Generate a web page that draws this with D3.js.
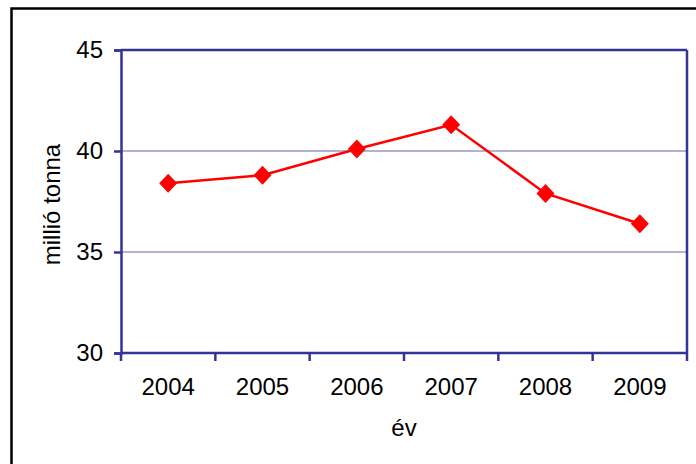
<!DOCTYPE html>
<html>
<head>
<meta charset="utf-8">
<script src="https://cdn.jsdelivr.net/npm/d3@7"></script>
<style>
  html, body { margin: 0; padding: 0; background: #fff; }
  svg { display: block; }
  text { font-family: "Liberation Sans", Arial, sans-serif; fill: #000; }
</style>
</head>
<body>
<svg id="chart" width="696" height="464"></svg>
<script>
const years = ["2004", "2005", "2006", "2007", "2008", "2009"];
const values = [38.4, 38.8, 40.1, 41.3, 37.9, 36.4];
const yTicks = [30, 35, 40, 45];
const yLabel = "millió tonna";
const xLabel = "év";

const svg = d3.select("#chart");
const W = 696, H = 464;
const m = { left: 121, right: 696 - 687, top: 50, bottom: 464 - 353 };
const iw = W - m.left - m.right, ih = H - m.top - m.bottom;
const FS = "24px";

// outer frame
svg.append("rect")
  .attr("x", 11.5).attr("y", 8.5)
  .attr("width", 700).attr("height", 470)
  .attr("fill", "none").attr("stroke", "#000").attr("stroke-width", 2.5);

const x = d3.scaleBand().domain(years).range([0, iw]).padding(0);
const y = d3.scaleLinear().domain([30, 45]).range([ih, 0]);

const g = svg.append("g").attr("transform", `translate(${m.left},${m.top})`);

// gridlines
g.append("g").selectAll("line")
  .data(yTicks.filter(t => t > 30 && t < 45))
  .join("line")
  .attr("x1", 0).attr("x2", iw)
  .attr("y1", d => y(d)).attr("y2", d => y(d))
  .attr("stroke", "#9999cc").attr("stroke-width", 1.5);

// plot frame top & right
g.append("line").attr("x1", 0).attr("x2", iw).attr("y1", 0).attr("y2", 0)
  .attr("stroke", "#333399").attr("stroke-width", 2.5);
g.append("line").attr("x1", iw).attr("x2", iw).attr("y1", 0).attr("y2", ih)
  .attr("stroke", "#333399").attr("stroke-width", 2.5);

// y axis
const yAxis = g.append("g")
  .call(d3.axisLeft(y).tickValues(yTicks).tickSize(7).tickPadding(11).tickFormat(d3.format("d")));
yAxis.select(".domain").attr("stroke", "#333399").attr("stroke-width", 2.5);
yAxis.selectAll(".tick line").attr("stroke", "#333399").attr("stroke-width", 2.5);
yAxis.selectAll(".tick text")
  .style("font-family", "'Liberation Sans', Arial, sans-serif")
  .style("font-size", FS).attr("fill", "#000");

// x axis with ticks between categories
const xAxisG = g.append("g").attr("transform", `translate(0,${ih})`);
xAxisG.append("line").attr("x1", 0).attr("x2", iw).attr("y1", 0).attr("y2", 0)
  .attr("stroke", "#333399").attr("stroke-width", 2.5);
const bounds = years.map(d => x(d)).concat([iw]);
xAxisG.selectAll("line.sep").data(bounds).join("line")
  .attr("class", "sep")
  .attr("x1", d => d).attr("x2", d => d)
  .attr("y1", 0).attr("y2", 8)
  .attr("stroke", "#333399").attr("stroke-width", 2.5);
xAxisG.selectAll("text.lbl").data(years).join("text")
  .attr("class", "lbl")
  .attr("x", d => x(d) + x.bandwidth() / 2)
  .attr("y", 42)
  .attr("text-anchor", "middle")
  .style("font-size", FS)
  .text(d => d);

// line
const pts = years.map((yr, i) => [x(yr) + x.bandwidth() / 2, y(values[i])]);
g.append("path")
  .attr("d", d3.line()(pts))
  .attr("fill", "none").attr("stroke", "#ff0000").attr("stroke-width", 2.5);

// diamond markers
g.selectAll("path.mk").data(pts).join("path")
  .attr("class", "mk")
  .attr("d", d => `M${d[0]},${d[1] - 9.5}L${d[0] + 9},${d[1]}L${d[0]},${d[1] + 9.5}L${d[0] - 9},${d[1]}Z`)
  .attr("fill", "#ff0000");

// axis titles
svg.append("text")
  .attr("transform", `translate(60,${m.top + ih / 2 + 3}) rotate(-90)`)
  .attr("text-anchor", "middle")
  .style("font-size", FS)
  .text(yLabel);

svg.append("text")
  .attr("x", m.left + iw / 2)
  .attr("y", 436)
  .attr("text-anchor", "middle")
  .style("font-size", FS)
  .text(xLabel);
</script>
</body>
</html>
